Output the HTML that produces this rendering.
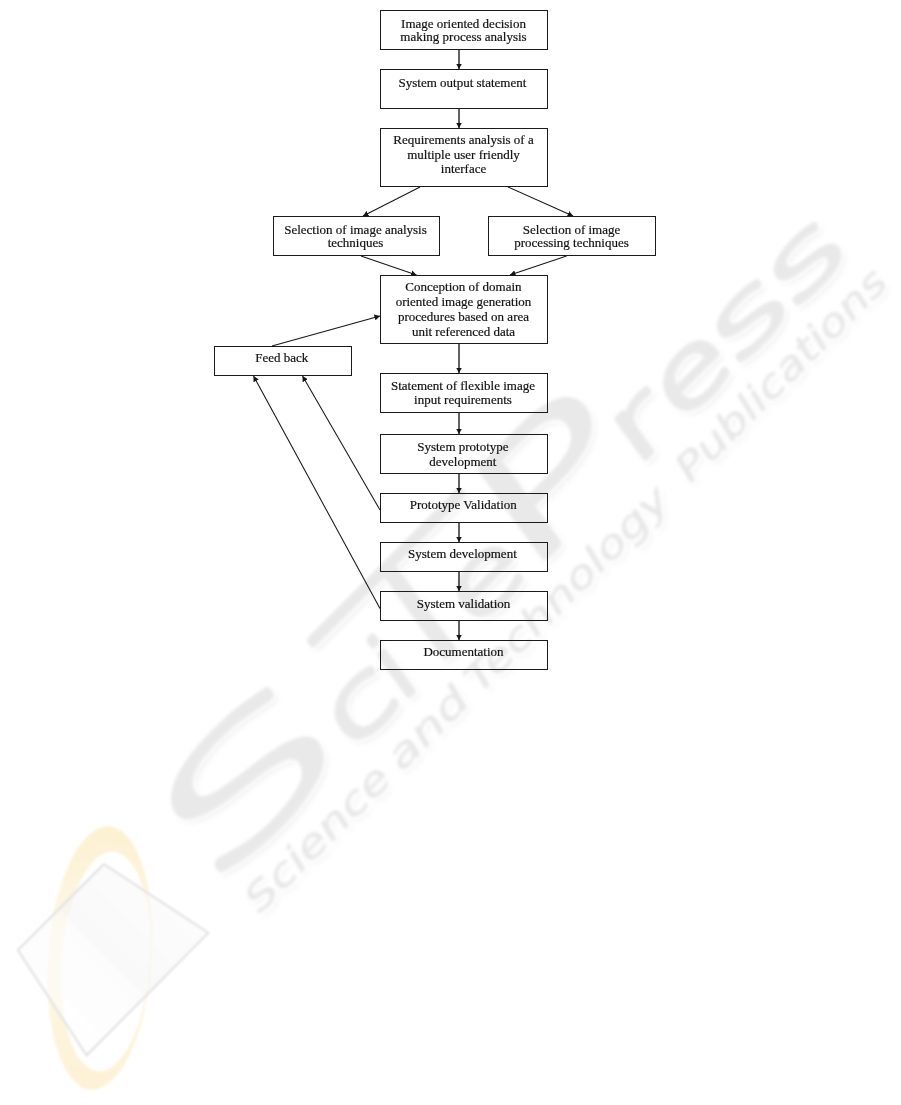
<!DOCTYPE html>
<html lang="en">
<head>
<meta charset="utf-8">
<title>Development process flowchart</title>
<style>
  html, body { margin: 0; padding: 0; background: #fff; }
  body { width: 901px; height: 1105px; position: relative; overflow: hidden;
         font-family: "Liberation Serif", "Times New Roman", serif; font-size: 13px; line-height: 14.5px; color: #111; }
  #wm text { vector-effect: non-scaling-stroke; }
  #wm { position: absolute; left: 0; top: 0; width: 901px; height: 1105px; z-index: 0; }
  #lines { position: absolute; left: 0; top: 0; width: 901px; height: 1105px; z-index: 2; }
  .b { position: absolute; box-sizing: border-box; border: 1px solid #1a1a1a; text-align: center;
       z-index: 1; white-space: nowrap; will-change: transform; -webkit-text-stroke: 0.2px #111; }
  </style>
</head>
<body>

<!-- WATERMARK -->

<svg id="wm" width="901" height="1105" viewBox="0 0 901 1105" aria-label="SciTePress - Science and Technology Publications">
  <title>SciTePress - Science and Technology Publications</title>
  <defs>
    <filter id="soft" x="-5%" y="-5%" width="110%" height="110%">
      <feGaussianBlur in="SourceGraphic" stdDeviation="1.5" result="main"/>
      <feOffset in="SourceAlpha" dx="0" dy="5" result="off"/>
      <feGaussianBlur in="off" stdDeviation="3.5" result="sh"/>
      <feComponentTransfer in="sh" result="sh2"><feFuncA type="linear" slope="0.065"/></feComponentTransfer>
      <feMerge><feMergeNode in="sh2"/><feMergeNode in="main"/></feMerge>
    </filter>
    <clipPath id="tclip"><path d="M-270,640 H20 V680 H-270 Z M-131.6,650.0 L-115.6,650.0 L-138.1,792.0 L-154.1,792.0 Z"/></clipPath>
    <filter id="soft2" x="-10%" y="-10%" width="120%" height="120%"><feGaussianBlur stdDeviation="1.3"/></filter>
    <linearGradient id="ring" x1="0" y1="0" x2="0" y2="1">
      <stop offset="0" stop-color="#fdf1d2"/><stop offset="0.45" stop-color="#fef7e6"/><stop offset="1" stop-color="#fdf2d7"/>
    </linearGradient>
    <linearGradient id="quad" x1="1" y1="0" x2="0" y2="1">
      <stop offset="0" stop-color="#ffffff" stop-opacity="0.6"/><stop offset="0.5" stop-color="#f4f4f4" stop-opacity="0.6"/><stop offset="0.52" stop-color="#fbfbfb" stop-opacity="0.6"/><stop offset="1" stop-color="#ffffff" stop-opacity="0.6"/>
    </linearGradient>
  </defs>
  <g filter="url(#soft2)">
    <g transform="rotate(4 100 958)">
      <path fill="url(#ring)" fill-rule="evenodd" d="M48,958 a52,132 0 1 0 104,0 a52,132 0 1 0 -104,0 Z M62,961 a44,110 0 1 0 88,0 a44,110 0 1 0 -88,0 Z"/>
    </g>
    <polygon points="103.9,864.1 208.4,932.8 86.6,1055.4 17.9,950.1" fill="url(#quad)" stroke="#e3e3e3" stroke-width="2.2" stroke-linejoin="round"/>
  </g>
  <g transform="rotate(-45)" filter="url(#soft)">
    <g class="wt" font-family="'DejaVu Sans Light','DejaVu Sans',sans-serif" font-weight="200" fill="#e9e9e9" stroke="#e9e9e9" stroke-linejoin="round"><text transform="translate(-485.2 779.0) skewX(-9) scale(2.132 1)" font-size="148" stroke-width="10">S</text><text transform="translate(-283.0 780.5) skewX(-9) scale(1.507 1)" font-size="87" stroke-width="7">c</text><text transform="translate(-211.5 780.5) skewX(-9) scale(1.023 1)" font-size="87" stroke-width="7">i</text><g clip-path="url(#tclip)"><text transform="translate(-255.3 779.0) skewX(-9) scale(2.443 1)" font-size="148" stroke-width="10">T</text></g><text transform="translate(-111.5 780.5) skewX(-9) scale(1.523 1)" font-size="87" stroke-width="7">e</text><text transform="translate(-38.7 779.0) skewX(-9) scale(1.830 1)" font-size="148" stroke-width="10">P</text><text transform="translate(118.9 780.5) skewX(-9) scale(1.515 1)" font-size="87" stroke-width="7">r</text><text transform="translate(180.0 780.5) skewX(-9) scale(1.523 1)" font-size="87" stroke-width="7">e</text><text transform="translate(258.2 780.5) skewX(-9) scale(1.875 1)" font-size="87" stroke-width="7">s</text><text transform="translate(338.7 780.5) skewX(-9) scale(1.875 1)" font-size="87" stroke-width="7">s</text></g>
    <text class="ws" y="830" font-family="'DejaVu Sans',sans-serif" font-style="oblique" font-size="36.5" fill="#e7e7e7" stroke="#e7e7e7" stroke-width="0.3"><tspan x="-463" textLength="189" lengthAdjust="spacingAndGlyphs">Science</tspan> <tspan x="-262" textLength="99" lengthAdjust="spacingAndGlyphs">and</tspan> <tspan x="-152" textLength="272" lengthAdjust="spacingAndGlyphs">Technology</tspan> <tspan x="146" textLength="282" lengthAdjust="spacingAndGlyphs">Publications</tspan></text>
  </g>
</svg>


<!-- BOXES -->
<div class="b" style="left:380px;top:10px;width:168px;height:40px;padding:5.6px 1px 0 0;line-height:13.7px">Image oriented decision<br>making process analysis</div>
<div class="b" style="left:380px;top:69px;width:168px;height:40px;padding:5.5px 3.2px 0 0;line-height:14.5px">System output statement</div>
<div class="b" style="left:380px;top:128px;width:168px;height:59px;padding:4px 1px 0 0;line-height:14.5px">Requirements analysis of a<br>multiple user friendly<br>interface</div>
<div class="b" style="left:273px;top:216px;width:167px;height:40px;padding:5.6px 2px 0 0;line-height:13.7px">Selection of image analysis<br>techniques</div>
<div class="b" style="left:488px;top:216px;width:168px;height:40px;padding:5.6px 1px 0 0;line-height:13.7px">Selection of image<br>processing techniques</div>
<div class="b" style="left:380px;top:275px;width:168px;height:69px;padding:4.4px 1px 0 0;line-height:14.8px">Conception of domain<br>oriented image generation<br>procedures based on area<br>unit referenced data</div>
<div class="b" style="left:214px;top:346px;width:138px;height:30px;padding:3.6px 2.6px 0 0;line-height:14.5px">Feed back</div>
<div class="b" style="left:380px;top:373px;width:168px;height:40px;padding:4.5px 2px 0 0;line-height:14.2px">Statement of flexible image<br>input requirements</div>
<div class="b" style="left:380px;top:434px;width:168px;height:40px;padding:3.5px 2.2px 0 0;line-height:15px">System prototype<br>development</div>
<div class="b" style="left:380px;top:493px;width:168px;height:30px;padding:3.5px 1.4px 0 0;line-height:14.5px">Prototype Validation</div>
<div class="b" style="left:380px;top:542px;width:168px;height:30px;padding:4px 3.2px 0 0;line-height:14.5px">System development</div>
<div class="b" style="left:380px;top:591px;width:168px;height:30px;padding:5px 1px 0 0;line-height:14.5px">System validation</div>
<div class="b" style="left:380px;top:640px;width:168px;height:30px;padding:4px 1px 0 0;line-height:14.5px">Documentation</div>

<!-- CONNECTORS -->
<svg id="lines" width="901" height="1105" viewBox="0 0 901 1105">
  <defs>
    <marker id="ah" viewBox="0 0 5.5 6" refX="5.5" refY="3" markerWidth="5.5" markerHeight="6" orient="auto" markerUnits="userSpaceOnUse">
      <path d="M0,0 L5.5,3 L0,6 Z" fill="#151515"/>
    </marker>
  </defs>
  <g stroke="#161616" stroke-width="1.35" fill="none" marker-end="url(#ah)">
    <line x1="459" y1="50" x2="459" y2="69"/>
    <line x1="459" y1="109" x2="459" y2="128"/>
    <line x1="420" y1="187" x2="363" y2="216" stroke-width="1.05"/>
    <line x1="508" y1="187" x2="573" y2="216" stroke-width="1.05"/>
    <line x1="361" y1="256" x2="416.5" y2="275" stroke-width="1.05"/>
    <line x1="566.5" y1="256" x2="510" y2="275" stroke-width="1.05"/>
    <line x1="459" y1="344" x2="459" y2="373"/>
    <line x1="459" y1="413" x2="459" y2="434"/>
    <line x1="459" y1="474" x2="459" y2="493"/>
    <line x1="459" y1="523" x2="459" y2="542"/>
    <line x1="459" y1="572" x2="459" y2="591"/>
    <line x1="459" y1="621" x2="459" y2="640"/>
    <line x1="272" y1="346" x2="380" y2="316" stroke-width="1.05"/>
    <line x1="380" y1="510" x2="302.5" y2="376" stroke-width="1.05"/>
    <line x1="380" y1="608.5" x2="253.5" y2="376" stroke-width="1.05"/>
  </g>
</svg>

</body>
</html>
